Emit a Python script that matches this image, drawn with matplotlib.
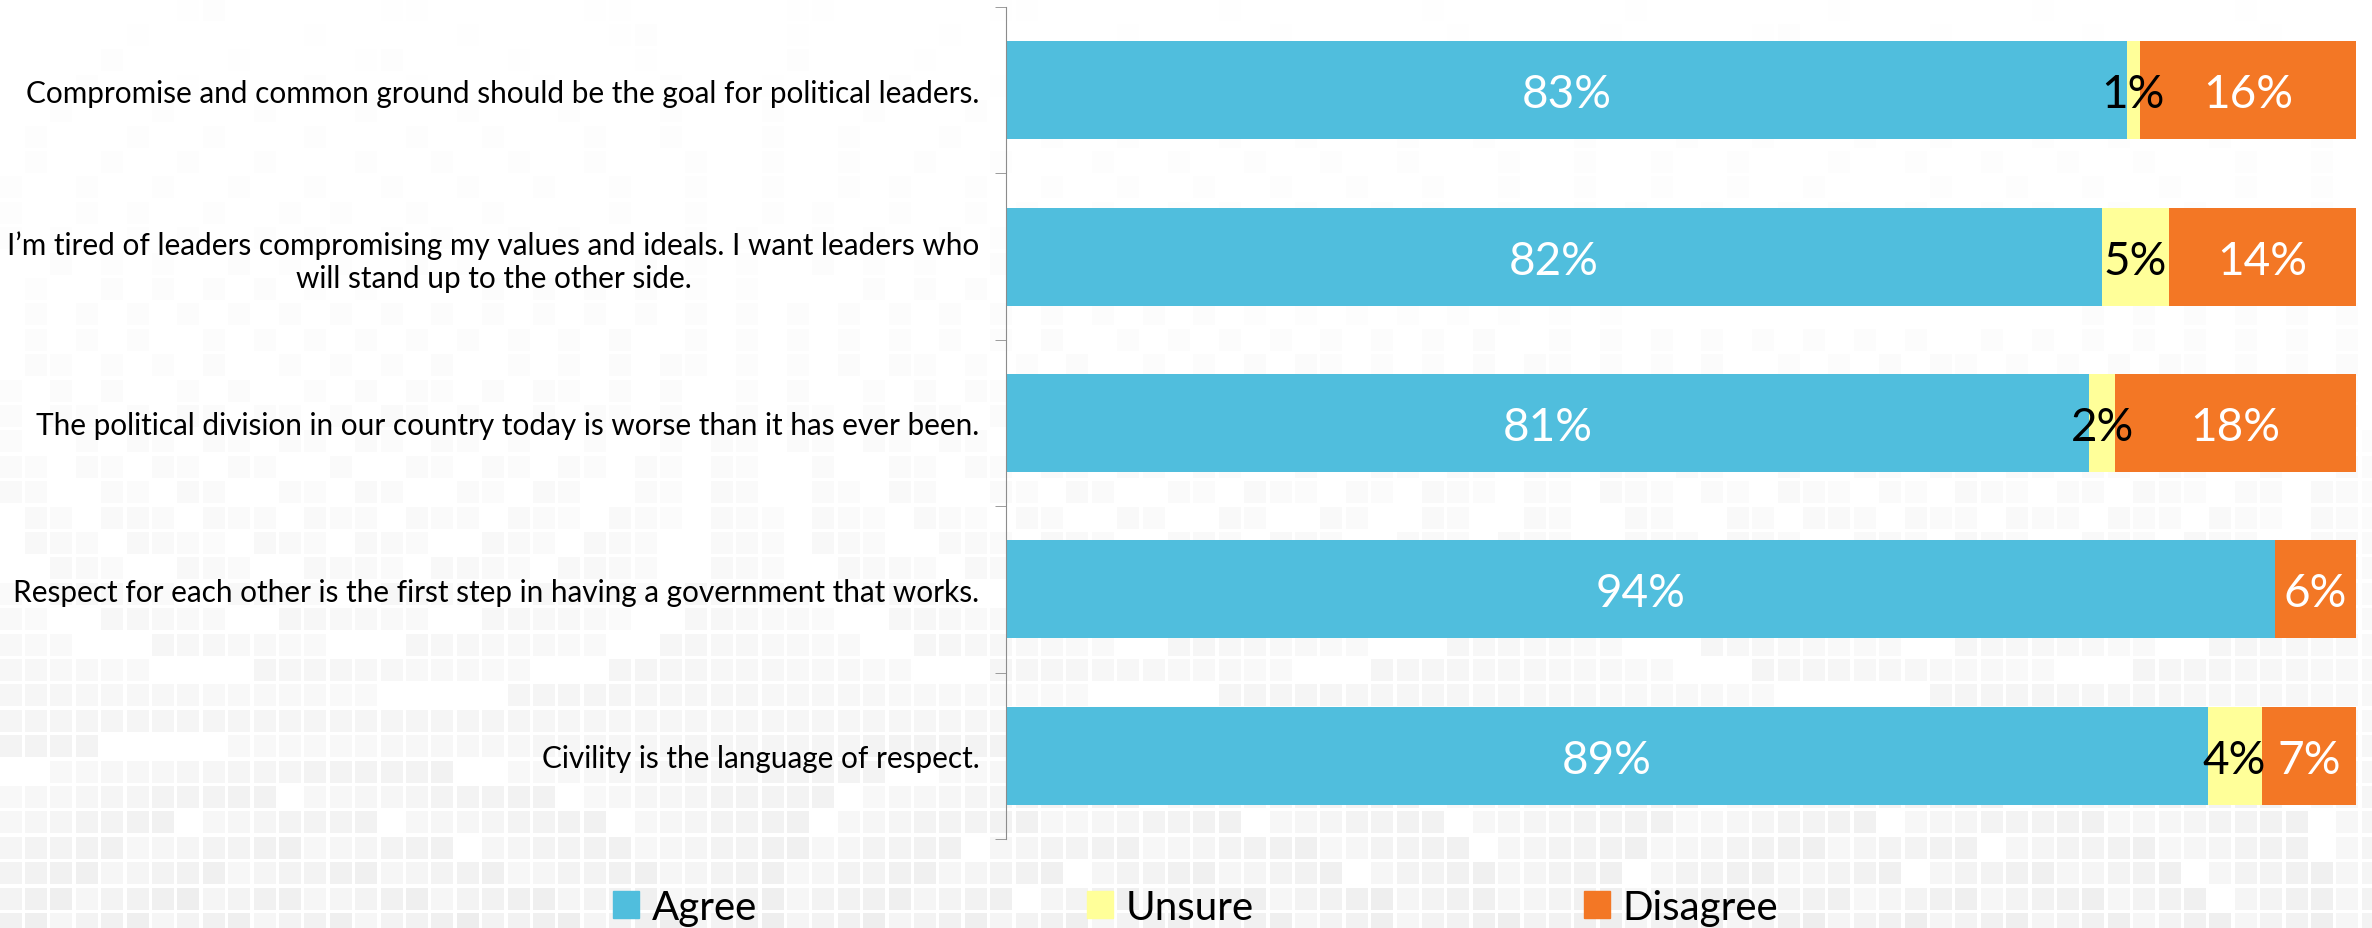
import numpy as np
import matplotlib.pyplot as plt
from matplotlib.patches import Patch

plt.rcParams['font.family'] = ['Lato', 'DejaVu Sans']

# statements (top to bottom) and answers in %
statements = [
    "Compromise and common ground should be the goal for political leaders.",
    "I\u2019m tired of leaders compromising my values and ideals. I want leaders who\nwill stand up to the other side.",
    "The political division in our country today is worse than it has ever been.",
    "Respect for each other is the first step in having a government that works.",
    "Civility is the language of respect.",
]
agree = [83, 82, 81, 94, 89]
unsure = [1, 5, 2, 0, 4]
disagree = [16, 14, 18, 6, 7]

series = ['Agree', 'Unsure', 'Disagree']
colors = ['#50bedd', '#ffff99', '#f37725']
text_colors = ['white', 'black', 'white']

fig = plt.figure(figsize=(23.72, 9.29), dpi=100)

# background mosaic (decoration only)
W, H, pitch, gap = 2372, 929, 25.4, 3
bg = np.full((H, W), 255.0)
ncol = int(W / pitch) + 1
nrow = int(H / pitch) + 1
for i in range(nrow):
    t = i / (nrow - 1)
    for j in range(ncol):
        v = ((i * 92821 + j * 68917 + i * j * 31) % 997) / 997.0
        if v < 0.85 * (1 - t) ** 1.1:
            continue
        d = (2 + 16 * t ** 2.0) * (0.5 + 0.5 * v)
        y0, x0 = int(i * pitch), int(j * pitch)
        bg[y0:min(H, y0 + int(pitch) - gap), x0:min(W, x0 + int(pitch) - gap)] = 255 - d
ax_bg = fig.add_axes([0, 0, 1, 1], zorder=-1)
ax_bg.imshow(bg, cmap='gray', vmin=0, vmax=255, aspect='auto', interpolation='nearest')
ax_bg.axis('off')

ax = fig.add_axes([1006 / W, 89 / H, 1350 / W, 832 / H])
ax.patch.set_alpha(0)

y = np.arange(len(statements))
data = np.array([agree, unsure, disagree], dtype=float)
totals = data.sum(axis=0)
left = np.zeros(len(statements))
for k in range(3):
    widths = data[k] / totals * 100
    ax.barh(y, widths, left=left, height=0.59, color=colors[k], label=series[k])
    for yi, w, l, val in zip(y, widths, left, data[k]):
        if val > 0:
            ax.text(l + w / 2, yi, '%d%%' % val, ha='center', va='center_baseline',
                    fontsize=33, color=text_colors[k])
    left = left + widths

ax.set_xlim(0, 100)
ax.set_ylim(len(statements) - 0.5, -0.5)
ax.set_yticks(y)
ax.set_yticklabels(statements, fontsize=21.4)
for lbl in ax.get_yticklabels():
    lbl.set_multialignment('center')
ax.set_yticks(np.arange(-0.5, len(statements)), minor=True)
ax.tick_params(axis='y', which='major', length=0, pad=19)
ax.tick_params(axis='y', which='minor', length=8, color='#8c8c8c', direction='out')
ax.xaxis.set_visible(False)
for s in ['top', 'right', 'bottom']:
    ax.spines[s].set_visible(False)
ax.spines['left'].set_color('#8c8c8c')

handles = [Patch(color=c, label=s) for c, s in zip(colors, series)]
fig.legend(handles=handles, loc='center', bbox_to_anchor=(0.504, 0.022), ncol=3,
           frameon=False, fontsize=29, handlelength=0.65, handleheight=0.65,
           handletextpad=0.3, columnspacing=8.2)

fig.savefig('out.png', dpi=100)
